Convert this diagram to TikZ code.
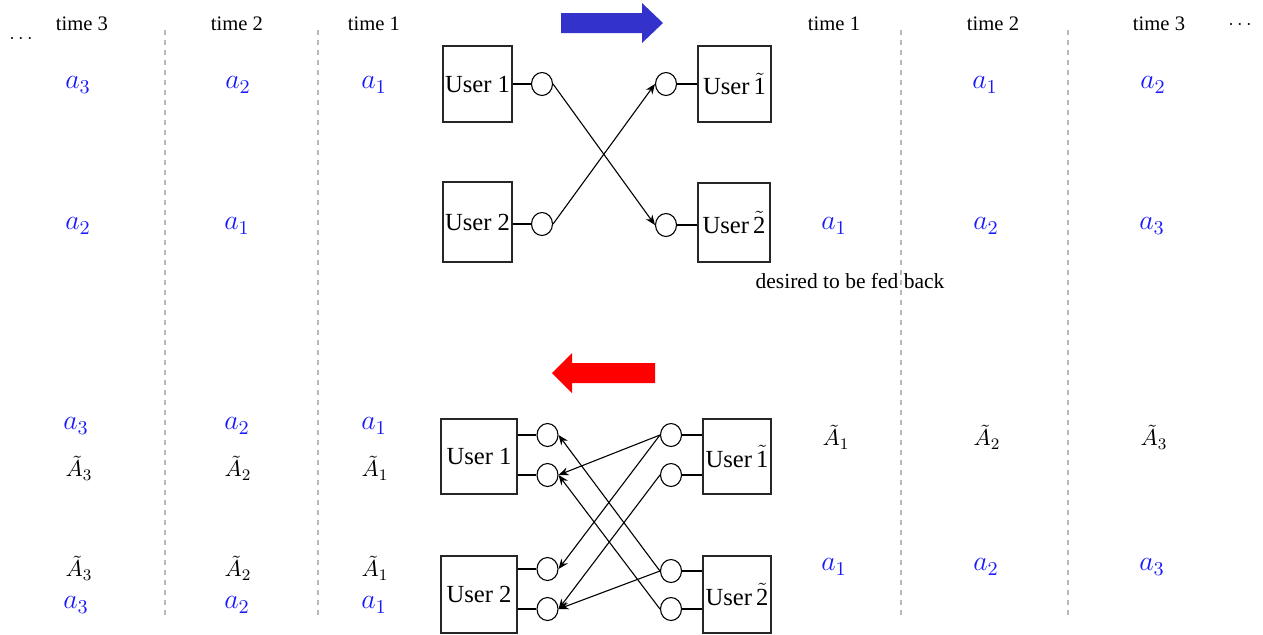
\RequirePackage{fix-cm}
\documentclass[tikz,border=0pt]{standalone}
\usepackage{fontspec}
\setmainfont{Liberation Serif}
\newfontfamily\tnr{Liberation Serif}
\usetikzlibrary{arrows.meta,shapes.geometric}
\definecolor{mblue}{RGB}{25,25,255}
\definecolor{arrblue}{RGB}{51,51,204}
\definecolor{dashgray}{RGB}{185,185,185}
\newcommand{\tld}[1]{\ensuremath{\tilde{\mbox{\tnr #1}}}}
\begin{document}
\begin{tikzpicture}[x=0.5pt,y=-0.5pt,
  timelbl/.style={font=\tnr\fontsize{10.3}{12}\selectfont, anchor=base, inner sep=0pt},
  dotlbl/.style={font=\fontsize{10}{12}\selectfont, anchor=base, inner sep=0pt},
  ma/.style={text=mblue, font=\fontsize{14}{17}\selectfont, inner sep=0pt},
  mA/.style={font=\fontsize{11.5}{14}\selectfont, inner sep=0pt},
  ubox/.style={draw=black!85, line width=0.55pt, inner sep=0pt, font=\tnr\fontsize{12.3}{14}\selectfont},
  port/.style={ellipse, draw, line width=0.55pt, minimum width=10.5pt, minimum height=11.5pt, inner sep=0pt},
  stub/.style={line width=1pt},
  flow/.style={line width=0.55pt, -{Stealth[length=5pt,width=4pt]}},
  sep/.style={draw=dashgray, line width=0.55pt, dash pattern=on 2.5pt off 2.5pt}]
\useasboundingbox (0,0) rectangle (1263,634);

% separators
\coordinate (s1t) at (165,30);  \coordinate (s1b) at (165,615);
\coordinate (s2t) at (318,30);  \coordinate (s2b) at (318,615);
\coordinate (s3t) at (901,30);  \coordinate (s3b) at (901,617);
\coordinate (s4t) at (1068,30); \coordinate (s4b) at (1068,617);
\draw[sep] (s1t) -- (s1b);
\draw[sep] (s2t) -- (s2b);
\draw[sep] (s3t) -- (s3b);
\draw[sep] (s4t) -- (s4b);

% time labels
\node[timelbl] (t3L) at (82,30) {time 3};
\node[timelbl] (t2L) at (237,30) {time 2};
\node[timelbl] (t1L) at (374,30) {time 1};
\node[timelbl] (t1R) at (834,30) {time 1};
\node[timelbl] (t2R) at (993,30) {time 2};
\node[timelbl] (t3R) at (1159,30) {time 3};
\node[dotlbl] (dL) at (21,43) {$\cdots$};
\node[dotlbl] (dR) at (1240,29) {$\cdots$};

% top labels
\node[ma] (a31) at (78,85) {$a_3$};
\node[ma] (a21) at (238,85) {$a_2$};
\node[ma] (a11) at (374,85) {$a_1$};
\node[ma] (b11) at (985,85) {$a_1$};
\node[ma] (b21) at (1153,85) {$a_2$};
\node[ma] (a22) at (78,226) {$a_2$};
\node[ma] (a12) at (237,226) {$a_1$};
\node[ma] (b12) at (834,226) {$a_1$};
\node[ma] (b22) at (986,226) {$a_2$};
\node[ma] (b32) at (1152,226) {$a_3$};
\node[font=\tnr\fontsize{10.75}{13}\selectfont, inner sep=0pt] (fed) at (850,281) {desired to be fed back};

% bottom labels
\node[ma] (c31) at (76,426) {$a_3$};
\node[ma] (c21) at (237,426) {$a_2$};
\node[ma] (c11) at (374,426) {$a_1$};
\node[mA] (C31) at (79,468) {$\tilde{A}_3$};
\node[mA] (C21) at (238,468) {$\tilde{A}_2$};
\node[mA] (C11) at (375,468) {$\tilde{A}_1$};
\node[mA] (D11) at (836,437) {$\tilde{A}_1$};
\node[mA] (D21) at (987,437) {$\tilde{A}_2$};
\node[mA] (D31) at (1154,437) {$\tilde{A}_3$};
\node[mA] (C32) at (79,568) {$\tilde{A}_3$};
\node[mA] (C22) at (238,568) {$\tilde{A}_2$};
\node[mA] (C12) at (375,568) {$\tilde{A}_1$};
\node[ma] (c32) at (76,605) {$a_3$};
\node[ma] (c22) at (237,605) {$a_2$};
\node[ma] (c12) at (374,605) {$a_1$};
\node[ma] (d12) at (834,567) {$a_1$};
\node[ma] (d22) at (986,567) {$a_2$};
\node[ma] (d32) at (1152,567) {$a_3$};

% direction arrows
\fill[arrblue] (561,13) -- (642,13) -- (642,3) -- (663,23) -- (642,43) -- (642,33) -- (561,33) -- cycle;
\fill[red] (655,363) -- (572,363) -- (572,353) -- (552,373) -- (572,393) -- (572,383) -- (655,383) -- cycle;

% top network
\node[ubox, minimum width=34.5pt, minimum height=38pt] (U1t) at (477.5,84) {User 1};
\node[ubox, minimum width=34.5pt, minimum height=40pt] (U2t) at (477.5,222) {User 2};
\node[ubox, minimum width=36.5pt, minimum height=38pt] (V1t) at (734.5,84) {User\,\tld{1}};
\node[ubox, minimum width=36pt, minimum height=39.5pt] (V2t) at (734,222.5) {User\,\tld{2}};
\node[port] (pL1) at (542,84) {};
\node[port] (pL2) at (542,224) {};
\node[port] (pR1) at (666,84) {};
\node[port] (pR2) at (666,225) {};
\draw[stub] (U1t.east |- pL1) -- (pL1.west);
\draw[stub] (U2t.east |- pL2) -- (pL2.west);
\draw[stub] (pR1.east) -- (V1t.west |- pR1);
\draw[stub] (pR2.east) -- (V2t.west |- pR2);
\draw[flow] (pL1.east) -- (pR2.west);
\draw[flow] (pL2.east) -- (pR1.west);

% bottom network
\node[ubox, minimum width=38pt, minimum height=37.5pt] (U1b) at (479,456.5) {User 1};
\node[ubox, minimum width=38pt, minimum height=38.5pt] (U2b) at (479,594.5) {User 2};
\node[ubox, minimum width=34pt, minimum height=37.5pt] (V1b) at (737,456.5) {User\,\tld{1}};
\node[ubox, minimum width=34pt, minimum height=38.5pt] (V2b) at (737,594.5) {User\,\tld{2}};
\node[port] (qL1) at (547.5,435) {};
\node[port] (qL2) at (547.5,475) {};
\node[port] (qL3) at (547.5,569) {};
\node[port] (qL4) at (547.5,609) {};
\node[port] (qR1) at (671,435) {};
\node[port] (qR2) at (671,475) {};
\node[port] (qR3) at (671,571) {};
\node[port] (qR4) at (671,609) {};
\draw[stub] (U1b.east |- qL1) -- (qL1.west);
\draw[stub] (U1b.east |- qL2) -- (qL2.west);
\draw[stub] (U2b.east |- qL3) -- (qL3.west);
\draw[stub] (U2b.east |- qL4) -- (qL4.west);
\draw[stub] (qR1.east) -- (V1b.west |- qR1);
\draw[stub] (qR2.east) -- (V1b.west |- qR2);
\draw[stub] (qR3.east) -- (V2b.west |- qR3);
\draw[stub] (qR4.east) -- (V2b.west |- qR4);
\draw[flow] (qR1.west) -- (qL2.east);
\draw[flow] (qR1.west) -- (qL3.east);
\draw[flow] (qR2.west) -- (qL4.east);
\draw[flow] (qR3.west) -- (qL4.east);
\draw[flow] (qR3.west) -- (qL1.east);
\draw[flow] (qR4.west) -- (qL2.east);
\end{tikzpicture}
\end{document}
